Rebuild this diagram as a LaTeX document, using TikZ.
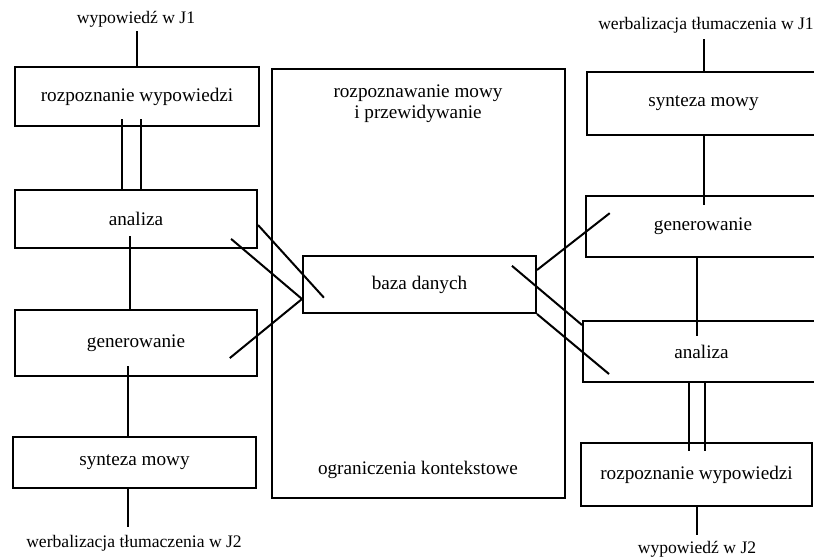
\documentclass[tikz,border=0pt]{standalone}
\usepackage{fontspec}
\setmainfont{Liberation Serif}
\usepackage{tikz}

\begin{document}
\begin{tikzpicture}[x=0.5pt,y=-0.5pt,
  box/.style={draw,line width=1pt,inner sep=0pt,font=\fontsize{9.6}{10.5}\selectfont},
  tag/.style={inner sep=1pt,font=\fontsize{8.8}{10}\selectfont},
  link/.style={line width=1pt}]
  \clip (0,0) rectangle (814,557);

  \node[box,minimum width=122pt,minimum height=29.5pt] (1) at (137,96.5) {rozpoznanie wypowiedzi};
  \node[box,minimum width=121pt,minimum height=29pt] (2) at (136,219) {analiza};
  \node[box,minimum width=121pt,minimum height=33pt] (3) at (136,343) {generowanie};
  \node[box,minimum width=121.5pt,minimum height=25.5pt] (4) at (134.5,462.5) {synteza mowy};

  \node[draw,line width=0.7pt,minimum width=146.5pt,minimum height=214.5pt] (5) at (418.5,283.5) {};
  \node[box,minimum width=116.5pt,minimum height=28.5pt] (6) at (419.5,284.5) {baza danych};
  \node[font=\fontsize{9.6}{10.5}\selectfont,align=center,inner sep=0pt] (15) at (418,104) {rozpoznawanie mowy\\i przewidywanie};
  \node[font=\fontsize{9.6}{10.5}\selectfont,inner sep=0pt] (16) at (418,470) {ograniczenia kontekstowe};

  \node[box,minimum width=116.5pt,minimum height=31.5pt] (7) at (703.5,103.5) {synteza mowy};
  \node[box,minimum width=117pt,minimum height=30.5pt] (8) at (703,226.5) {generowanie};
  \node[box,minimum width=118.5pt,minimum height=30.5pt] (9) at (701.5,351.5) {analiza};
  \node[box,minimum width=115.5pt,minimum height=31.5pt] (10) at (696.5,474.5) {rozpoznanie wypowiedzi};

  \node[tag] (11) at (136,19) {wypowiedź w J1};
  \node[tag] (12) at (134,543) {werbalizacja tłumaczenia w J2};
  \node[tag] (13) at (706,25) {werbalizacja tłumaczenia w J1};
  \node[tag] (14) at (697,549) {wypowiedź w J2};

  \draw[link,shorten <=1pt] (11.south -| 1.north) -- (1.north);
  \draw[link,shorten <=-4pt] ([xshift=-7pt]2.north |- 1.south) -- ([xshift=-7pt]2.north);
  \draw[link,shorten <=-4pt] ([xshift=2.5pt]2.north |- 1.south) -- ([xshift=2.5pt]2.north);
  \draw[link,shorten <=-6.5pt] ([xshift=-3pt]3.north |- 2.south) -- ([xshift=-3pt]3.north);
  \draw[link,shorten <=-5.5pt] ([xshift=-3.25pt]4.north |- 3.south) -- ([xshift=-3.25pt]4.north);
  \draw[link,shorten >=3pt] ([xshift=-3.25pt]4.south) -- ([xshift=-3.25pt]4.south |- 12.north);

  \draw[link,shorten >=2pt] (7.north) -- (7.north |- 13.south);
  \draw[link,shorten >=-5pt] (7.south) -- (7.south |- 8.north);
  \draw[link,shorten >=-8pt] ([xshift=-3pt]8.south) -- ([xshift=-3pt]8.south |- 9.north);
  \draw[link,shorten >=-4.5pt] ([xshift=-3.75pt]10.north |- 9.south) -- ([xshift=-3.75pt]10.north);
  \draw[link,shorten >=-4.5pt] ([xshift=4.25pt]10.north |- 9.south) -- ([xshift=4.25pt]10.north);
  \draw[link,shorten >=2pt] (10.south) -- (10.south |- 14.north);

  \draw[link,shorten >=-16.3pt] ([yshift=-3pt]2.east) -- ([yshift=5.5pt]6.west);
  \draw[link,shorten <=-7.8pt] ([xshift=-7.5pt]2.south east) -- ([yshift=-7.25pt]6.west);
  \draw[link,shorten >=-18.2pt] ([yshift=-7.25pt]6.west) -- ([yshift=4pt]3.east);
  \draw[link,shorten >=-15.7pt] ([yshift=7.25pt]6.east) -- ([yshift=-3pt]8.west);
  \draw[link,shorten <=-16.4pt] ([yshift=-1.25pt]6.east) -- ([yshift=13.25pt]9.west);
  \draw[link,shorten >=-17.6pt] (6.south east) -- (9.west);
\end{tikzpicture}
\end{document}
